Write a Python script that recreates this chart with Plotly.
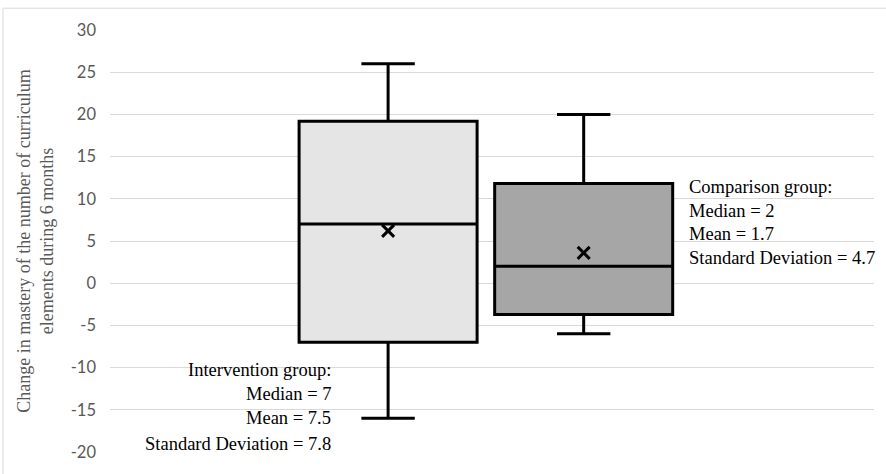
import plotly.graph_objects as go

# ---- data ----
groups = ["Intervention group", "Comparison group"]
positions = [0.364, 0.620]
q1 = [-7.0, -3.7]
median = [7.0, 2.0]
q3 = [19.2, 11.8]
lower_whisker = [-16.0, -6.0]
upper_whisker = [26.0, 20.0]
mean_marker = [6.2, 3.6]
fills = ["#e6e5e6", "#a6a6a6"]

y_ticks = [30, 25, 20, 15, 10, 5, 0, -5, -10, -15, -20]
y_tick_labels = ["30", "25", "20", "15", "10", "5", "0", "-5", "-10", "-15", "-20"]

intervention_text = ["Intervention group:", "Median = 7", "Mean = 7.5", "Standard Deviation = 7.8"]
comparison_text = ["Comparison group:", "Median = 2", "Mean = 1.7", "Standard Deviation = 4.7"]
intervention_text_y = [-10.3, -13.1, -16.0, -19.0]
comparison_text_y = [11.4, 8.6, 5.8, 3.0]

y_title = "Change in mastery of the number of curriculum<br>elements during 6 months"

fig = go.Figure()
for i in range(len(groups)):
    fig.add_trace(go.Box(
        x=[positions[i]], q1=[q1[i]], median=[median[i]], q3=[q3[i]],
        lowerfence=[lower_whisker[i]], upperfence=[upper_whisker[i]],
        name=groups[i], width=0.233, whiskerwidth=0.3,
        fillcolor=fills[i], line=dict(color="black", width=3),
        boxpoints=False, hoverinfo="skip", showlegend=False,
    ))

fig.add_trace(go.Scatter(
    x=positions, y=mean_marker, mode="markers",
    marker=dict(symbol="x-thin", size=12, line=dict(color="black", width=3), color="black"),
    showlegend=False, hoverinfo="skip",
))

serif = "Liberation Serif, Times New Roman, serif"
for t, yy in zip(intervention_text, intervention_text_y):
    fig.add_annotation(x=0.2915, y=yy, xref="paper", yref="y", text=t, showarrow=False,
                       xanchor="right", yanchor="middle",
                       font=dict(family=serif, size=18.5, color="black"))
for t, yy in zip(comparison_text, comparison_text_y):
    fig.add_annotation(x=0.7556, y=yy, xref="paper", yref="y", text=t, showarrow=False,
                       xanchor="left", yanchor="middle",
                       font=dict(family=serif, size=18.5, color="black"))

# outer chart border
fig.add_shape(type="rect", xref="paper", yref="paper",
              x0=(3 - 110) / 764, x1=(895 - 110) / 764,
              y0=(456 - 480) / 426, y1=(456 - 8) / 426,
              line=dict(color="#d9d9d9", width=1), layer="below")

fig.update_layout(
    width=886, height=474,
    margin=dict(l=110, r=12, t=30, b=18),
    paper_bgcolor="white", plot_bgcolor="white",
    boxmode="overlay",
    xaxis=dict(range=[0, 1], showticklabels=False, showgrid=False, zeroline=False,
               showline=False, ticks=""),
    yaxis=dict(range=[-20, 30], tickvals=y_ticks, ticktext=y_tick_labels,
               showgrid=True, gridcolor="#d9d9d9",
               gridwidth=1, zeroline=False, showline=False, ticks="",
               tickfont=dict(family="Lato, Open Sans, sans-serif", size=16.5, color="#595959"),
               ticklabelstandoff=13,
               title=dict(text=y_title, standoff=12,
                          font=dict(family=serif, size=18, color="#595959"))),
)

fig.write_html("out.html", config={"displayModeBar": False},
               post_script="document.body.style.margin='0';")
